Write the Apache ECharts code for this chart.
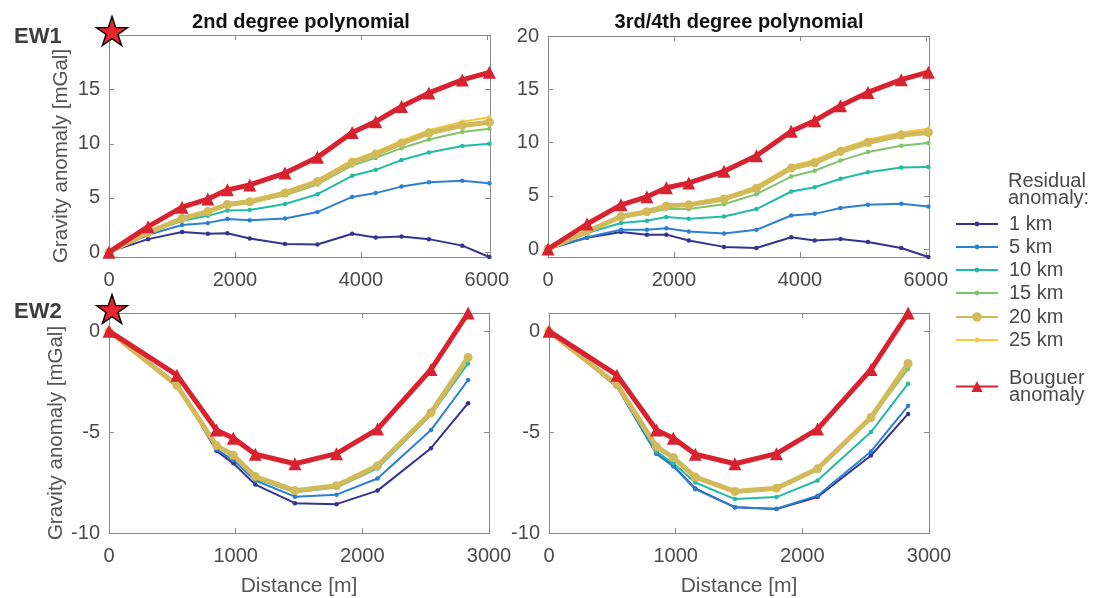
<!DOCTYPE html>
<html>
<head>
<meta charset="utf-8">
<script src="https://cdn.jsdelivr.net/npm/echarts@6/dist/echarts.min.js"></script>
<style>
  html, body { margin: 0; padding: 0; background: #ffffff; }
  #chart { width: 1099px; height: 598px; }
</style>
</head>
<body>
<div id="chart"></div>
<script>
// Profile distances (m)
const ew1Distance = [0, 620, 1160, 1570, 1880, 2235, 2795, 3310, 3862, 4235, 4645, 5080, 5610, 6040];
const ew2Distance = [0, 537, 848, 982, 1155, 1468, 1796, 2120, 2542, 2835];

// Bouguer anomaly (mGal)
const ew1Bouguer = [0, 2.35, 4.15, 4.9, 5.75, 6.2, 7.3, 8.75, 11.05, 12.05, 13.45, 14.7, 15.9, 16.6];
const ew2Bouguer = [0, -2.18, -4.9, -5.3, -6.1, -6.57, -6.07, -4.85, -1.9, 0.9];

// EW1, 2nd degree polynomial residuals
const ew1Poly2_1km  = [0, 1.2, 1.85, 1.7, 1.75, 1.25, 0.75, 0.7, 1.7, 1.35, 1.45, 1.2, 0.6, -0.45];
const ew1Poly2_5km  = [0, 1.6, 2.5, 2.7, 3.05, 2.95, 3.1, 3.7, 5.1, 5.45, 6.05, 6.45, 6.6, 6.35];
const ew1Poly2_10km = [0, 1.75, 2.9, 3.35, 3.85, 3.9, 4.45, 5.35, 7.05, 7.6, 8.5, 9.2, 9.8, 10.0];
const ew1Poly2_15km = [0, 1.8, 3.0, 3.6, 4.3, 4.55, 5.25, 6.25, 8.0, 8.7, 9.6, 10.4, 11.1, 11.4];
const ew1Poly2_20km = [0, 1.8, 3.1, 3.75, 4.4, 4.65, 5.45, 6.5, 8.3, 9.05, 10.05, 11.0, 11.7, 12.0];
const ew1Poly2_25km = [0, 1.85, 3.15, 3.85, 4.5, 4.8, 5.6, 6.7, 8.5, 9.25, 10.3, 11.25, 12.05, 12.45];

// EW1, 3rd/4th degree polynomial residuals
const ew1Poly34_1km  = [0, 1.05, 1.6, 1.35, 1.35, 0.8, 0.2, 0.1, 1.1, 0.8, 0.95, 0.65, 0.1, -0.75];
const ew1Poly34_5km  = [0, 1.1, 1.8, 1.8, 1.95, 1.65, 1.45, 1.8, 3.15, 3.3, 3.85, 4.15, 4.25, 4.0];
const ew1Poly34_10km = [0, 1.5, 2.45, 2.65, 3.0, 2.85, 3.05, 3.75, 5.4, 5.8, 6.6, 7.2, 7.65, 7.7];
const ew1Poly34_15km = [0, 1.65, 2.9, 3.35, 3.75, 3.75, 4.2, 5.15, 6.8, 7.35, 8.3, 9.1, 9.7, 9.95];
const ew1Poly34_20km = [0, 1.65, 3.05, 3.5, 4.05, 4.15, 4.7, 5.7, 7.6, 8.1, 9.15, 10.0, 10.7, 10.95];
const ew1Poly34_25km = [0, 1.7, 3.1, 3.6, 4.15, 4.25, 4.85, 5.9, 7.8, 8.35, 9.4, 10.25, 10.95, 11.3];

// EW2, 2nd degree polynomial residuals
const ew2Poly2_1km  = [0, -2.6, -5.93, -6.55, -7.6, -8.52, -8.57, -7.9, -5.8, -3.57];
const ew2Poly2_5km  = [0, -2.65, -5.85, -6.4, -7.4, -8.2, -8.1, -7.3, -4.9, -2.42];
const ew2Poly2_10km = [0, -2.7, -5.7, -6.25, -7.3, -7.98, -7.75, -6.8, -4.15, -1.6];
const ew2Poly2_15km = [0, -2.7, -5.68, -6.2, -7.22, -7.92, -7.68, -6.7, -4.08, -1.45];
const ew2Poly2_20km = [0, -2.7, -5.67, -6.15, -7.2, -7.9, -7.66, -6.67, -4.04, -1.3];
const ew2Poly2_25km = [0, -2.68, -5.65, -6.13, -7.18, -7.88, -7.64, -6.65, -4.0, -1.25];

// EW2, 3rd/4th degree polynomial residuals
const ew2Poly34_1km  = [0, -2.75, -6.05, -6.67, -7.8, -8.72, -8.81, -8.22, -6.16, -4.1];
const ew2Poly34_5km  = [0, -2.75, -6.08, -6.7, -7.83, -8.73, -8.8, -8.15, -5.96, -3.7];
const ew2Poly34_10km = [0, -2.7, -5.96, -6.55, -7.5, -8.32, -8.22, -7.4, -5.0, -2.6];
const ew2Poly34_15km = [0, -2.68, -5.75, -6.3, -7.28, -7.94, -7.78, -6.87, -4.32, -1.88];
const ew2Poly34_20km = [0, -2.65, -5.72, -6.26, -7.23, -7.94, -7.78, -6.82, -4.28, -1.6];
const ew2Poly34_25km = [0, -2.63, -5.7, -6.22, -7.2, -7.9, -7.74, -6.78, -4.22, -1.55];

// Tick values
const ew1XTicks = [0, 2000, 4000, 6000];
const ew2XTicks = [0, 1000, 2000, 3000];
const ew1YTicksLeft = [0, 5, 10, 15];
const ew1YTicksRight = [0, 5, 10, 15, 20];
const ew2YTicks = [-10, -5, 0];

const residualNames = ['1 km', '5 km', '10 km', '15 km', '20 km', '25 km'];
const bouguerName = 'Bouguer anomaly';

const FONT = '"Liberation Sans", Helvetica, Arial, sans-serif';
const AXIS_GREY = '#8a8a8a';
const TEXT_GREY = '#4a4a4a';

const COLORS = {
  '1 km': '#34348f',
  '5 km': '#2c80d3',
  '10 km': '#22bba6',
  '15 km': '#80c36c',
  '20 km': '#d2b95a',
  '25 km': '#f8c63a',
  bouguer: '#d8222f'
};

const STAR_PATH = 'path://M50,2 L61.2,36.2 L97.5,36.2 L68.2,57.4 L79.4,91.6 L50,70.4 L20.6,91.6 L31.8,57.4 L2.5,36.2 L38.8,36.2 Z';

// Panel layout: grid boxes and axis ranges
const panels = [
  { left: 109, top: 35, width: 381, height: 222, x: [0, 6050], y: [-0.45, 20.05],
    xTicks: ew1XTicks, yTicks: ew1YTicksLeft, xName: '', yName: 'Gravity anomaly [mGal]', star: true },
  { left: 548, top: 36, width: 381, height: 221, x: [0, 6050], y: [-0.75, 20],
    xTicks: ew1XTicks, yTicks: ew1YTicksRight, xName: '', yName: '', star: false },
  { left: 109, top: 313, width: 380, height: 220, x: [0, 3000], y: [-10, 0.9],
    xTicks: ew2XTicks, yTicks: ew2YTicks, xName: 'Distance [m]', yName: 'Gravity anomaly [mGal]', star: true },
  { left: 549, top: 313, width: 380, height: 220, x: [0, 3000], y: [-10, 0.9],
    xTicks: ew2XTicks, yTicks: ew2YTicks, xName: 'Distance [m]', yName: '', star: false }
];

const panelData = [
  { dist: ew1Distance, bouguer: ew1Bouguer,
    residuals: [ew1Poly2_1km, ew1Poly2_5km, ew1Poly2_10km, ew1Poly2_15km, ew1Poly2_20km, ew1Poly2_25km] },
  { dist: ew1Distance, bouguer: ew1Bouguer,
    residuals: [ew1Poly34_1km, ew1Poly34_5km, ew1Poly34_10km, ew1Poly34_15km, ew1Poly34_20km, ew1Poly34_25km] },
  { dist: ew2Distance, bouguer: ew2Bouguer,
    residuals: [ew2Poly2_1km, ew2Poly2_5km, ew2Poly2_10km, ew2Poly2_15km, ew2Poly2_20km, ew2Poly2_25km] },
  { dist: ew2Distance, bouguer: ew2Bouguer,
    residuals: [ew2Poly34_1km, ew2Poly34_5km, ew2Poly34_10km, ew2Poly34_15km, ew2Poly34_20km, ew2Poly34_25km] }
];

function pairs(xs, ys) {
  return xs.map((x, i) => [x, ys[i]]);
}

const plainNumber = (v) => String(v);

const grids = [];
const xAxes = [];
const yAxes = [];
const series = [];

const tickStyle = { inside: true, length: 5, lineStyle: { color: AXIS_GREY, width: 1 } };
const lineStyleAxis = { onZero: false, lineStyle: { color: AXIS_GREY, width: 1 } };
const labelStyle = { fontSize: 20, color: TEXT_GREY, fontFamily: FONT, formatter: plainNumber };

panels.forEach((p, i) => {
  grids.push({ left: p.left, top: p.top, width: p.width, height: p.height, containLabel: false });

  // bottom (labelled) and top (box edge) x axes
  xAxes.push({
    gridIndex: i, type: 'value', position: 'bottom', min: p.x[0], max: p.x[1],
    axisLine: lineStyleAxis,
    axisTick: Object.assign({ customValues: p.xTicks }, tickStyle),
    axisLabel: Object.assign({ customValues: p.xTicks, margin: 13 }, labelStyle),
    splitLine: { show: false },
    name: p.xName, nameLocation: 'middle', nameGap: 43,
    nameTextStyle: { fontSize: 21, color: '#555555', fontFamily: FONT }
  });
  xAxes.push({
    gridIndex: i, type: 'value', position: 'top', min: p.x[0], max: p.x[1],
    axisLine: lineStyleAxis,
    axisTick: Object.assign({ customValues: p.xTicks }, tickStyle),
    axisLabel: { show: false },
    splitLine: { show: false }
  });

  // left (labelled) and right (box edge) y axes
  yAxes.push({
    gridIndex: i, type: 'value', position: 'left', min: p.y[0], max: p.y[1],
    axisLine: lineStyleAxis,
    axisTick: Object.assign({ customValues: p.yTicks }, tickStyle),
    axisLabel: Object.assign({ customValues: p.yTicks, margin: 9 }, labelStyle),
    splitLine: { show: false },
    name: p.yName, nameLocation: 'middle', nameGap: 37,
    nameTextStyle: { fontSize: 20.5, color: '#555555', fontFamily: FONT, padding: [0, 20, 0, 0] }
  });
  yAxes.push({
    gridIndex: i, type: 'value', position: 'right', min: p.y[0], max: p.y[1],
    axisLine: lineStyleAxis,
    axisTick: Object.assign({ customValues: p.yTicks }, tickStyle),
    axisLabel: { show: false },
    splitLine: { show: false }
  });

  const d = panelData[i];
  const axisRef = { xAxisIndex: 2 * i, yAxisIndex: 2 * i };

  // residual curves; 25 km goes under the thick 20 km curve
  const drawOrder = [0, 1, 2, 3, 5, 4];
  drawOrder.forEach((k) => {
    const name = residualNames[k];
    const thick = name === '20 km';
    series.push(Object.assign({
      type: 'line', name: name,
      data: pairs(d.dist, d.residuals[k]),
      clip: false, animation: false,
      symbol: 'circle', symbolSize: thick ? 9 : 4.5, showSymbol: true,
      lineStyle: { color: COLORS[name], width: thick ? 5 : 2 },
      itemStyle: { color: COLORS[name] },
      emphasis: { disabled: true },
      z: 2
    }, axisRef));
  });

  series.push(Object.assign({
    type: 'line', name: bouguerName,
    data: pairs(d.dist, d.bouguer),
    clip: false, animation: false,
    symbol: 'triangle', symbolSize: 13, showSymbol: true,
    lineStyle: { color: COLORS.bouguer, width: 5 },
    itemStyle: { color: COLORS.bouguer },
    emphasis: { disabled: true },
    z: 3
  }, axisRef));

  if (p.star) {
    series.push(Object.assign({
      type: 'scatter', name: 'station',
      data: [[p.x[0], p.y[1]]],
      clip: false, animation: false,
      symbol: STAR_PATH, symbolSize: [31, 29], symbolOffset: [3, -4],
      itemStyle: { color: '#e8262d', opacity: 1, borderColor: '#000000', borderWidth: 1.4 },
      emphasis: { disabled: true },
      z: 5
    }, axisRef));
  }
});

const legendBase = {
  orient: 'vertical', left: 955, itemWidth: 42, padding: 0, selectedMode: false,
  textStyle: { fontSize: 20, color: TEXT_GREY, fontFamily: FONT, lineHeight: 20, padding: [0, 0, 0, 6] }
};

const option = {
  backgroundColor: '#ffffff',
  animation: false,
  title: [
    { text: '2nd degree polynomial', left: 296, top: 7, textAlign: 'center',
      textStyle: { fontSize: 20, fontWeight: 'bold', color: '#111111', fontFamily: FONT } },
    { text: '3rd/4th degree polynomial', left: 734, top: 7, textAlign: 'center',
      textStyle: { fontSize: 20, fontWeight: 'bold', color: '#111111', fontFamily: FONT } },
    { text: 'EW1', left: 9, top: 21,
      textStyle: { fontSize: 22, fontWeight: 'bold', color: '#3d3d3d', fontFamily: FONT } },
    { text: 'EW2', left: 9, top: 296,
      textStyle: { fontSize: 22, fontWeight: 'bold', color: '#3d3d3d', fontFamily: FONT } },
    { text: 'Residual\nanomaly:', left: 1008, top: 173, padding: 0,
      textStyle: { fontSize: 20, fontWeight: 'normal', color: TEXT_GREY, fontFamily: FONT, lineHeight: 17 } }
  ],
  legend: [
    Object.assign({}, legendBase, { data: ['1 km', '5 km', '10 km', '15 km'], itemHeight: 6, itemGap: 3, top: 214 }),
    Object.assign({}, legendBase, { data: ['20 km'], itemHeight: 12, top: 307 }),
    Object.assign({}, legendBase, { data: ['25 km'], itemHeight: 6, top: 330 }),
    Object.assign({}, legendBase, {
      data: [bouguerName], itemHeight: 14, top: 368,
      formatter: (name) => name.replace(' ', '\n'),
      textStyle: Object.assign({}, legendBase.textStyle, { lineHeight: 17 })
    })
  ],
  grid: grids,
  xAxis: xAxes,
  yAxis: yAxes,
  series: series
};

const chart = echarts.init(document.getElementById('chart'), null, { renderer: 'canvas' });
chart.setOption(option);
</script>
</body>
</html>
